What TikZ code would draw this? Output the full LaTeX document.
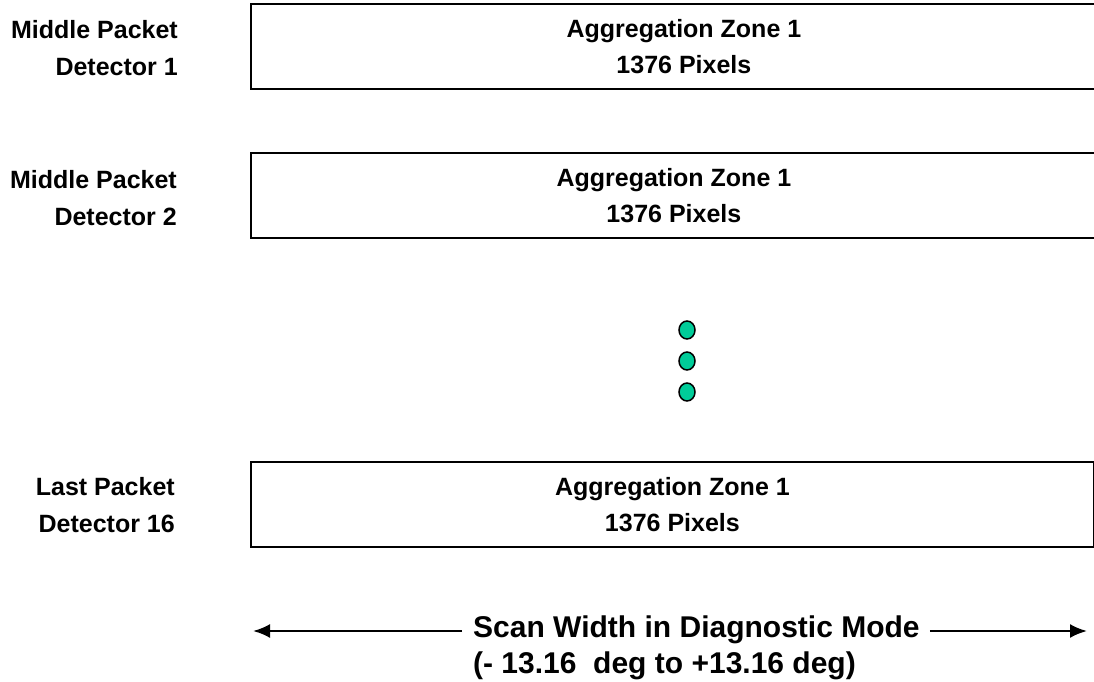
\documentclass[tikz,border=0pt]{standalone}
\usepackage{fontspec}
\setmainfont{Liberation Sans}
\usetikzlibrary{arrows.meta,shapes.geometric}
\definecolor{dotgreen}{RGB}{0,204,153}
\tikzset{
  zonebox/.style={draw, line width=1.8pt, minimum height=85pt,
    anchor=north west, align=center, inner sep=0pt,
    font=\bfseries\fontsize{25}{36}\selectfont},
  detlabel/.style={anchor=east, align=right, inner sep=0pt,
    font=\bfseries\fontsize{25}{37}\selectfont},
  gapdot/.style={draw, ellipse, line width=1.5pt, fill=dotgreen,
    minimum width=16pt, minimum height=18pt, inner sep=0pt},
  scantext/.style={anchor=west, inner sep=0pt, font=\bfseries\fontsize{30}{36}\selectfont},
  scanarrow/.style={line width=2.4pt, -{Latex[length=17pt,width=14pt]}}
}
\begin{document}
\begin{tikzpicture}[x=1pt,y=1pt]
\clip (0,0) rectangle (1094,-682);
\node[zonebox, minimum width=866pt] (zone1) at (250,-3) {Aggregation Zone 1\\1376 Pixels};
\node[zonebox, minimum width=846pt] (zone2) at (250,-152) {Aggregation Zone 1\\1376 Pixels};
\node[zonebox, minimum width=843pt] (zone16) at (250,-461) {Aggregation Zone 1\\1376 Pixels};
\node[detlabel] (det1) at (178,-48) {Middle Packet\\Detector 1};
\node[detlabel] (det2) at (177,-198) {Middle Packet\\Detector 2};
\node[detlabel] (det16) at (175,-505) {Last Packet\\Detector 16};
\node[gapdot] (dota) at (687,-330) {};
\node[gapdot] (dotb) at (687,-361) {};
\node[gapdot] (dotc) at (687,-392) {};
\node[scantext] (scan) at (473,-630) {Scan Width in Diagnostic Mode};
\node[scantext] (range) at (473,-666) {(- 13.16\ \ deg to +13.16 deg)};
\coordinate (leftend) at (253,-631);
\coordinate (rightend) at (1087,-631);
\draw[scanarrow] ([xshift=-11pt]scan.west |- leftend) -- (leftend);
\draw[scanarrow] ([xshift=10pt]scan.east |- rightend) -- (rightend);
\end{tikzpicture}
\end{document}
